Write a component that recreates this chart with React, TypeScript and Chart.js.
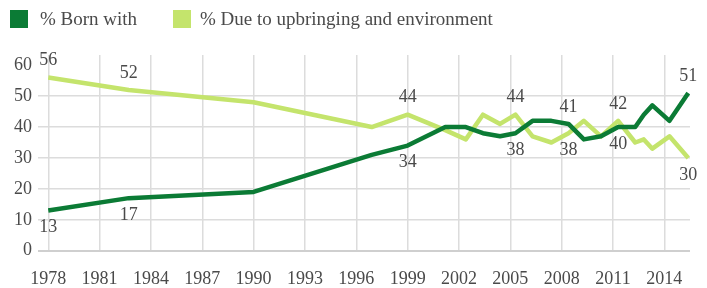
import React, { useEffect, useRef } from "react";
import { Chart, registerables } from "chart.js";

Chart.register(...registerables);

// Survey dates (decimal years) as placed on the time axis
const surveyYears = [1978, 1982.7, 1990, 1996.9, 1999, 2001.2, 2002.4, 2003.4, 2004.4, 2005.3, 2006.3, 2007.4, 2008.4, 2009.3, 2010.3, 2011.3, 2012.3, 2012.8, 2013.3, 2014.3, 2015.4];
const bornWith = [13, 17, 19, 31, 34, 40, 40, 38, 37, 38, 42, 42, 41, 36, 37, 40, 40, 44, 47, 42, 51];
const upbringing = [56, 52, 48, 40, 44, 39, 36, 44, 41, 44, 37, 35, 38, 42, 37, 42, 35, 36, 33, 37, 30];
const seriesNames = ["% Born with", "% Due to upbringing and environment"];
const xTickYears = [1978, 1981, 1984, 1987, 1990, 1993, 1996, 1999, 2002, 2005, 2008, 2011, 2014];
const yTickValues = [0, 10, 20, 30, 40, 50, 60];
const labelledPoints = [0, 1, 4, 9, 12, 15, 20];

const DARK = "#0b7b35";
const LIGHT = "#c4e46c";
const FONT = "'Liberation Serif', 'Times New Roman', serif";
const TEXT = "#4a4a4a";

export default function App() {
  const ref = useRef<HTMLCanvasElement | null>(null);
  useEffect(() => {
    document.body.style.margin = "0";
    const canvas = ref.current;
    if (!canvas) return;

    const legendPlugin = {
      id: "customLegend",
      afterDraw(chart: any) {
        const ctx = chart.ctx;
        ctx.save();
        ctx.font = `19px ${FONT}`;
        ctx.textBaseline = "alphabetic";
        ctx.textAlign = "left";
        const items = [
          { color: DARK, sx: 10, tx: 40 },
          { color: LIGHT, sx: 173, tx: 200 },
        ];
        items.forEach((it, i) => {
          ctx.fillStyle = it.color;
          ctx.fillRect(it.sx, 10, 18, 18);
          ctx.fillStyle = TEXT;
          ctx.fillText(seriesNames[i], it.tx, 25);
        });
        ctx.restore();
      },
    };

    const valueLabels = {
      id: "valueLabels",
      afterDatasetsDraw(chart: any) {
        const ctx = chart.ctx;
        const m0 = chart.getDatasetMeta(0).data;
        const m1 = chart.getDatasetMeta(1).data;
        ctx.save();
        ctx.font = `18px ${FONT}`;
        ctx.fillStyle = TEXT;
        ctx.textAlign = "center";
        ctx.textBaseline = "middle";
        labelledPoints.forEach((i) => {
          const a = bornWith[i];
          const b = upbringing[i];
          const pa = m0[i];
          const pb = m1[i];
          const aUp = a >= b;
          ctx.fillText(String(a), pa.x, pa.y + (aUp ? -17 : 17));
          ctx.fillText(String(b), pb.x, pb.y + (aUp ? 17 : -17));
        });
        ctx.restore();
      },
    };

    const chart = new Chart(canvas, {
      type: "line",
      data: {
        datasets: [
          {
            label: seriesNames[0],
            data: surveyYears.map((x, i) => ({ x, y: bornWith[i] })),
            borderColor: DARK,
            backgroundColor: DARK,
            borderWidth: 4.5,
            pointRadius: 0,
            tension: 0,
            borderJoinStyle: "round",
          },
          {
            label: seriesNames[1],
            data: surveyYears.map((x, i) => ({ x, y: upbringing[i] })),
            borderColor: LIGHT,
            backgroundColor: LIGHT,
            borderWidth: 4.5,
            pointRadius: 0,
            tension: 0,
            borderJoinStyle: "round",
          },
        ],
      },
      options: {
        responsive: false,
        animation: false,
        layout: { padding: { top: 55, right: 17, left: 0, bottom: 0 } },
        plugins: { legend: { display: false }, tooltip: { enabled: false } },
        scales: {
          x: {
            type: "linear",
            min: 1977.4,
            max: 2015.5,
            afterBuildTicks: (s: any) => {
              s.ticks = xTickYears.map((v) => ({ value: v }));
            },
            afterFit: (s: any) => {
              s.height = 37.3;
            },
            ticks: {
              callback: (v: any) => String(v),
              font: { family: FONT, size: 18 },
              color: TEXT,
              padding: 18,
              maxRotation: 0,
              autoSkip: false,
            },
            grid: { color: "#dcdcdc", lineWidth: 1.5, drawTicks: false },
            border: { display: false },
          },
          y: {
            min: 0,
            max: 63.3,
            afterBuildTicks: (s: any) => {
              s.ticks = yTickValues.map((v) => ({ value: v }));
            },
            afterFit: (s: any) => {
              s.width = 38;
            },
            ticks: {
              font: { family: FONT, size: 18 },
              color: TEXT,
              padding: 6,
            },
            grid: {
              color: (c: any) => (c.tick && c.tick.value === 60 ? "rgba(0,0,0,0)" : c.tick && c.tick.value === 0 ? "#cfcfcf" : "#dcdcdc"),
              lineWidth: (c: any) => (c.tick && c.tick.value === 0 ? 2 : 1.5),
              drawTicks: false,
            },
            border: { display: false },
          },
        },
      },
      plugins: [legendPlugin, valueLabels],
    } as any);
    return () => chart.destroy();
  }, []);

  return (
    <div style={{ position: "absolute", left: 0, top: 0, width: 707, height: 288 }}>
      <canvas ref={ref} width={707} height={288} />
    </div>
  );
}
